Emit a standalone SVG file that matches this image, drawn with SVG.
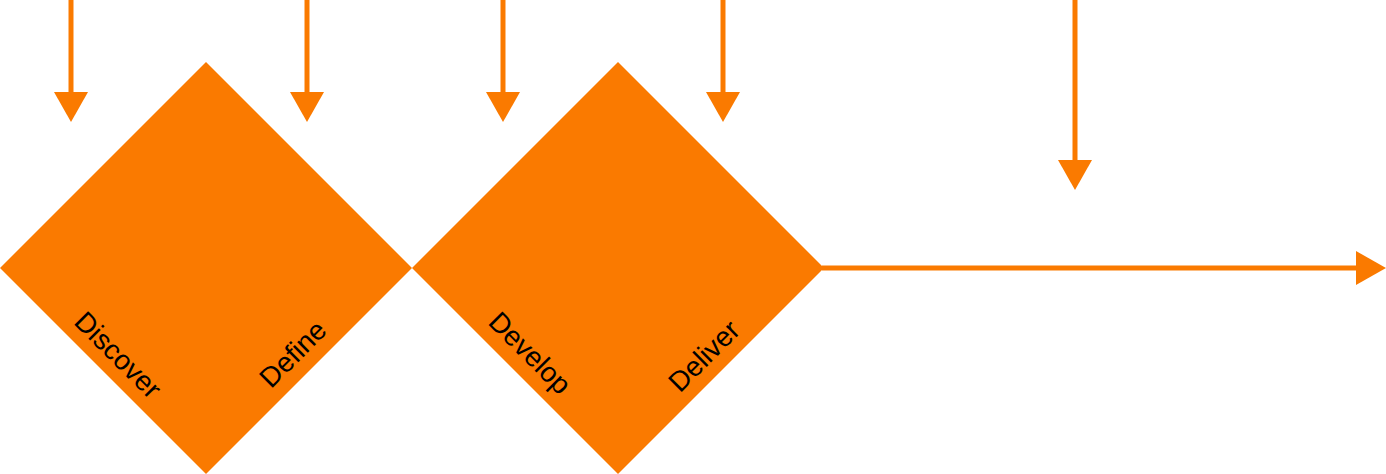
<svg xmlns="http://www.w3.org/2000/svg" width="1386" height="474" viewBox="0 0 1386 474">
<style>
.d{fill:#FA7A00;}
.c{stroke:#FA7A00;stroke-width:5;fill:none;}
.h{fill:#FA7A00;}
.t{font-family:"Liberation Sans",Arial,sans-serif;font-size:28px;fill:#000;text-anchor:middle;dominant-baseline:central;}
</style>
<rect width="1386" height="474" fill="#fff"/>
<g id="diamond1">
<polygon class="d" points="206,62 412,268 206,474 0,268"/>
<text class="t" transform="translate(118,355) rotate(45)">Discover</text>
<text class="t" transform="translate(293,354) rotate(-45)">Define</text>
</g>
<g id="diamond2">
<polygon class="d" points="618,62 824,268 618,474 412,268"/>
<text class="t" transform="translate(530,353) rotate(45)">Develop</text>
<text class="t" transform="translate(704,356) rotate(-45)">Deliver</text>
</g>
<g id="connectors">
<line class="c" x1="71" y1="0" x2="71" y2="95"/>
<polygon class="h" points="54,92 88,92 71,122"/>
<line class="c" x1="307" y1="0" x2="307" y2="95"/>
<polygon class="h" points="290,92 324,92 307,122"/>
<line class="c" x1="503" y1="0" x2="503" y2="95"/>
<polygon class="h" points="486,92 520,92 503,122"/>
<line class="c" x1="723" y1="0" x2="723" y2="95"/>
<polygon class="h" points="706,92 740,92 723,122"/>
<line class="c" x1="1075" y1="0" x2="1075" y2="163"/>
<polygon class="h" points="1058,160 1092,160 1075,190"/>
<line class="c" x1="822" y1="268" x2="1359" y2="268"/>
<polygon class="h" points="1356,251 1356,285 1386,268"/>
</g>
</svg>
